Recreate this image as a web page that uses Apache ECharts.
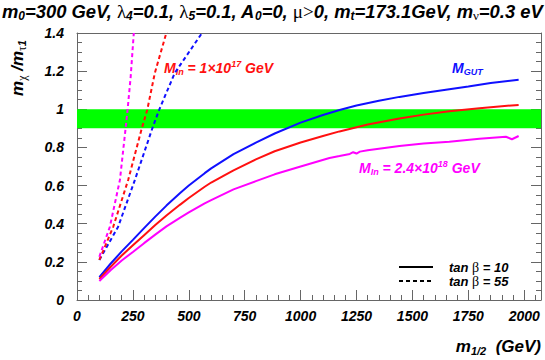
<!DOCTYPE html>
<html>
<head>
<meta charset="utf-8">
<script src="https://cdn.jsdelivr.net/npm/echarts@6/dist/echarts.min.js"></script>
<style>html,body{margin:0;padding:0;background:#fff}#c{width:545px;height:360px}</style>
</head>
<body>
<div id="c"></div>
<script>
// ---- data ----
const xTicks = [0, 250, 500, 750, 1000, 1250, 1500, 1750, 2000];
const yTicks = [0, 0.2, 0.4, 0.6, 0.8, 1, 1.2, 1.4];
const bandLow = 0.9, bandHigh = 1.0;
const legendNames = ['tan β = 10', 'tan β = 55'];

// tan beta = 10 (solid)
const blueSolidX = [100,150,200,250,300,350,400,460,500,571,600,700,800,884,1000,1100,1174,1250,1350,1442,1550,1665,1750,1850,1975];
const blueSolidY = [0.12,0.19,0.255,0.315,0.377,0.437,0.495,0.56,0.60,0.665,0.69,0.765,0.825,0.873,0.93,0.97,0.996,1.02,1.045,1.065,1.085,1.105,1.12,1.138,1.155];
const redSolidX = [100,150,200,250,300,350,400,460,500,571,600,661,700,800,884,1000,1100,1174,1300,1442,1550,1665,1800,1900,1975];
const redSolidY = [0.11,0.173,0.233,0.287,0.34,0.393,0.443,0.499,0.535,0.594,0.616,0.655,0.68,0.737,0.78,0.826,0.86,0.884,0.92,0.952,0.972,0.99,1.005,1.016,1.023];
const magSolidX = [100,150,200,250,300,350,400,460,500,571,600,700,800,884,1000,1129,1174,1220,1235,1250,1265,1300,1442,1550,1665,1800,1918,1945,1975];
const magSolidY = [0.10,0.156,0.207,0.252,0.298,0.343,0.386,0.431,0.459,0.507,0.524,0.58,0.623,0.659,0.70,0.745,0.755,0.766,0.775,0.768,0.778,0.785,0.808,0.82,0.83,0.845,0.856,0.843,0.86];

// tan beta = 55 (dashed)
const blueDashX = [100,184,259,336,367,437,559];
const blueDashY = [0.21,0.384,0.63,0.897,0.996,1.19,1.40];
const redDashX = [100,162,229,289,314,348,397,402];
const redDashY = [0.21,0.384,0.63,0.897,0.996,1.19,1.39,1.41];
const magDashX = [100,147,192,217,226,240,254];
const magDashY = [0.227,0.384,0.63,0.897,0.996,1.17,1.40];

// ---- styles ----
const SANS = '"Liberation Sans", Arial, Helvetica, sans-serif';
const GREEK = '"Liberation Serif", "DejaVu Serif", serif';
const BLUE = '#1010ff', RED = '#ff1010', MAG = '#ff00ff', GREEN = '#00ff00';
const AX = '#666';
const DASH = [4, 3];

function zip(xs, ys) { return xs.map((x, i) => [x, ys[i]]); }

function richSet(size, color) {
  const base = {fontFamily: SANS, fontStyle: 'italic', fontWeight: 'bold', color: color, fill: color};
  return {
    it: Object.assign({}, base, {fontSize: size}),
    sub: Object.assign({}, base, {fontSize: Math.round(size * 0.65), padding: [Math.round(size * 0.5), 0, 0, 0]}),
    sup: Object.assign({}, base, {fontSize: Math.round(size * 0.62), padding: [0, 0, Math.round(size * 0.6), 0]}),
    gr: {fontFamily: GREEK, fontStyle: 'normal', fontWeight: 'normal', fontSize: Math.round(size + 1), color: color, fill: color},
    grsub: {fontFamily: GREEK, fontStyle: 'normal', fontWeight: 'normal', fontSize: Math.round(size * 0.7), color: color, fill: color,
            padding: [Math.round(size * 0.5), 0, 0, 0]}
  };
}

function lineSeries(name, xs, ys, color, dashed) {
  return {
    type: 'line', name: name, xAxisIndex: 0, yAxisIndex: 0,
    data: zip(xs, ys), showSymbol: false, symbol: 'none',
    smooth: false, z: 3, silent: true,
    lineStyle: {color: color, width: 2, type: dashed ? DASH : 'solid'},
    itemStyle: {color: color}
  };
}

const chart = echarts.init(document.getElementById('c'), null, {renderer: 'svg'});

const option = {
  animation: false,
  backgroundColor: '#fff',
  grid: {left: 77, right: 4, top: 33, bottom: 60, containLabel: false},
  xAxis: [
    {type: 'value', min: 0, max: 2075, interval: 250, position: 'bottom',
     axisLine: {show: true, onZero: false, lineStyle: {color: AX, width: 1}},
     axisTick: {show: true, inside: true, length: 10, lineStyle: {color: AX}},
     axisLabel: {show: true, margin: 9, color: '#000', fontFamily: SANS, fontStyle: 'italic', fontWeight: 'bold', fontSize: 14,
       formatter: v => (xTicks.indexOf(v) >= 0 ? String(v) : '')},
     splitLine: {show: false}},
    {type: 'value', min: 0, max: 2075, interval: 50, position: 'bottom',
     axisLine: {show: false, onZero: false},
     axisTick: {show: true, inside: true, length: 5, lineStyle: {color: AX}},
     axisLabel: {show: false}, splitLine: {show: false}},
    {type: 'value', min: 0, max: 2075, position: 'top',
     axisLine: {show: true, onZero: false, lineStyle: {color: AX, width: 1}},
     axisTick: {show: false}, axisLabel: {show: false}, splitLine: {show: false}}
  ],
  yAxis: [
    {type: 'value', min: 0, max: 1.4, interval: 0.2, position: 'left',
     axisLine: {show: true, onZero: false, lineStyle: {color: AX, width: 1}},
     axisTick: {show: true, inside: true, length: 10, lineStyle: {color: AX}},
     minorTick: {show: true, splitNumber: 4, length: 5, lineStyle: {color: AX}},
     axisLabel: {show: true, margin: 13, color: '#000', fontFamily: SANS, fontStyle: 'italic', fontWeight: 'bold', fontSize: 14,
       formatter: v => {
         const t = yTicks.find(k => Math.abs(k - v) < 1e-6);
         return t === undefined ? '' : String(t);
       }},
     splitLine: {show: false}, minorSplitLine: {show: false}},
    {type: 'value', min: 0, max: 1.4, interval: 0.2, position: 'right',
     axisLine: {show: true, onZero: false, lineStyle: {color: AX, width: 1}},
     axisTick: {show: true, inside: true, length: 10, lineStyle: {color: AX}},
     minorTick: {show: true, splitNumber: 4, length: 5, lineStyle: {color: AX}},
     axisLabel: {show: false}, splitLine: {show: false}, minorSplitLine: {show: false}}
  ],
  legend: {
    show: true, orient: 'vertical', left: 393, top: 255,
    itemWidth: 34, itemHeight: 10, itemGap: 0,
    data: legendNames,
    itemStyle: {opacity: 0},
    textStyle: {color: '#000', fontFamily: SANS, fontStyle: 'italic', fontWeight: 'bold', fontSize: 13, lineHeight: 10,
      padding: [0, 0, 0, 11],
      rich: {gr: {fontFamily: GREEK, fontStyle: 'normal', fontWeight: 'normal', fontSize: 14, color: '#000', lineHeight: 10}}},
    formatter: name => name.replace('β', '{gr|β}'),
    selectedMode: false
  },
  series: [
    {type: 'line', name: 'band', data: [], z: 1, silent: true,
     markArea: {silent: true, itemStyle: {color: GREEN, opacity: 1},
       data: [[{yAxis: bandLow}, {yAxis: bandHigh}]]}},
    lineSeries('blue10', blueSolidX, blueSolidY, BLUE, false),
    lineSeries('red10', redSolidX, redSolidY, RED, false),
    lineSeries('mag10', magSolidX, magSolidY, MAG, false),
    lineSeries('blue55', blueDashX, blueDashY, BLUE, true),
    lineSeries('red55', redDashX, redDashY, RED, true),
    lineSeries('mag55', magDashX, magDashY, MAG, true),
    {type: 'line', name: legendNames[0], data: [], symbol: 'none', color: '#000',
     lineStyle: {color: '#000', width: 2, type: 'solid'}, itemStyle: {color: '#000'}},
    {type: 'line', name: legendNames[1], data: [], symbol: 'none', color: '#000',
     lineStyle: {color: '#000', width: 2, type: DASH}, itemStyle: {color: '#000'}}
  ],
  graphic: [
    {type: 'text', x: 2, y: 11, silent: true,
     style: {text: '{it|m}{sub|0}{it|=300 GeV, }{gr|λ}{sub|4}{it|=0.1, }{gr|λ}{sub|5}{it|=0.1, A}{sub|0}{it|=0, }{gr|μ>}{it|0, m}{sub|t}{it|=173.1GeV, m}{grsub|ν}{it|=0.3 eV}',
       align: 'left', verticalAlign: 'middle', rich: richSet(18.4, '#000')}},
    {type: 'text', x: 17, y: 68, rotation: Math.PI / 2, silent: true,
     style: {text: '{it|m}{grsub|χ}{it| /m}{grsub|τ}{sub|1}',
       align: 'center', verticalAlign: 'middle', rich: richSet(17, '#000')}},
    {type: 'text', x: 541, y: 346, silent: true,
     style: {text: '{it|m}{sub|1/2}{it|  (GeV)}',
       align: 'right', verticalAlign: 'middle', rich: richSet(17, '#000')}},
    {type: 'text', x: 164, y: 68, silent: true,
     style: {text: '{it|M}{sub|In}{it| = 1×10}{sup|17}{it| GeV}',
       align: 'left', verticalAlign: 'middle', rich: richSet(14, RED)}},
    {type: 'text', x: 452, y: 68, silent: true,
     style: {text: '{it|M}{sub|GUT}',
       align: 'left', verticalAlign: 'middle', rich: richSet(14, BLUE)}},
    {type: 'text', x: 359, y: 168, silent: true,
     style: {text: '{it|M}{sub|In}{it| = 2.4×10}{sup|18}{it| GeV}',
       align: 'left', verticalAlign: 'middle', rich: richSet(14, MAG)}}
  ]
};
chart.setOption(option);
</script>
</body>
</html>
